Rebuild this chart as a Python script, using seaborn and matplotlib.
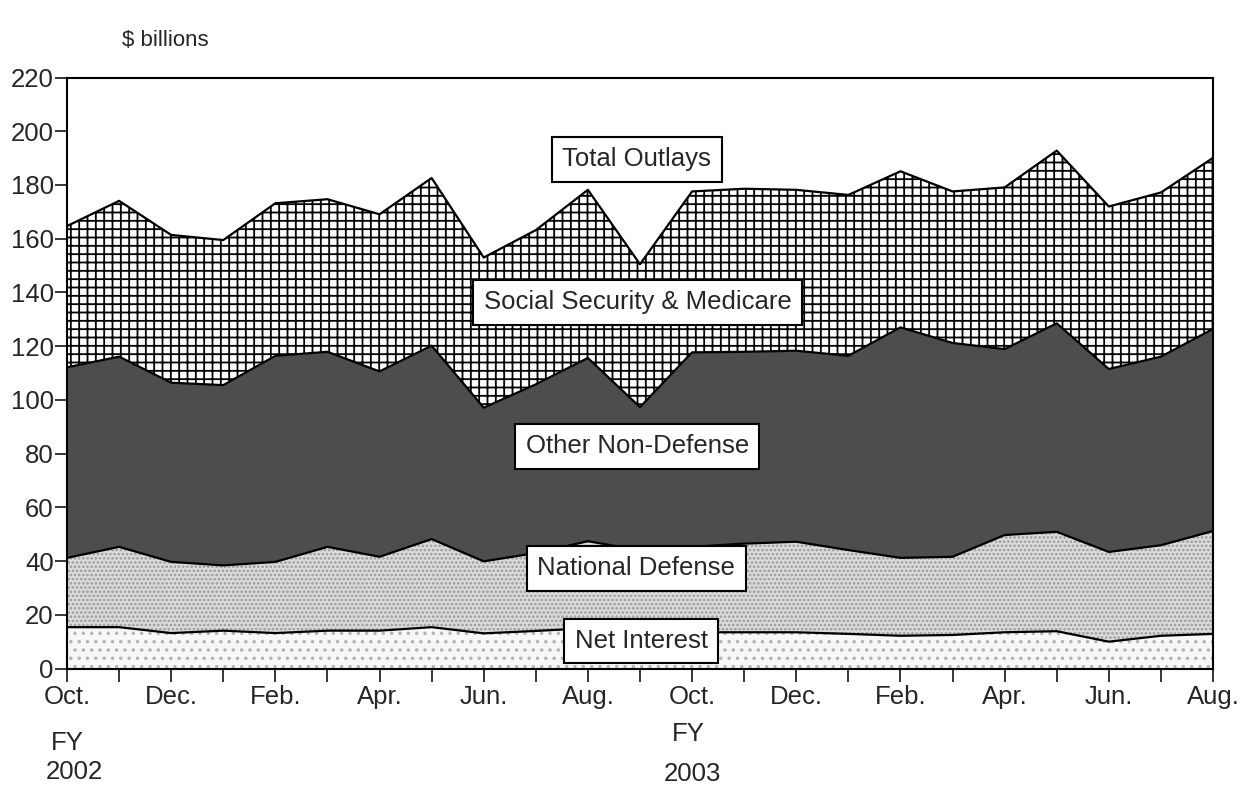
import matplotlib
matplotlib.use("Agg")
import matplotlib.pyplot as plt
import numpy as np
import seaborn as sns

# ── Data ($ billions, monthly, Oct FY2002 .. Aug FY2003) ──────────────────
months = ["Oct.", "Nov.", "Dec.", "Jan.", "Feb.", "Mar.", "Apr.", "May", "Jun.", "Jul.",
          "Aug.", "Sep.", "Oct.", "Nov.", "Dec.", "Jan.", "Feb.", "Mar.", "Apr.", "May",
          "Jun.", "Jul.", "Aug."]
net_interest = [15.4, 15.4, 13.2, 14.1, 13.2, 14.1, 14.1, 15.4, 13.1, 14.0, 15.0, 15.5,
                13.5, 13.5, 13.5, 12.9, 12.2, 12.5, 13.5, 13.9, 10.0, 12.2, 12.9]
national_defense = [25.8, 29.9, 26.5, 24.3, 26.5, 31.2, 27.5, 32.8, 26.8, 29.0, 32.4, 28.5,
                    31.8, 33.0, 33.7, 31.2, 29.0, 29.1, 36.2, 37.0, 33.4, 33.7, 38.3]
other_non_defense = [70.9, 70.8, 66.7, 67.1, 76.7, 72.6, 69.0, 72.0, 57.2, 62.8, 68.2, 53.3,
                     72.4, 71.4, 71.1, 72.3, 85.8, 79.6, 69.2, 77.6, 68.1, 70.2, 75.2]
ss_medicare = [52.6, 58.0, 55.0, 54.0, 56.8, 56.8, 58.5, 62.4, 55.9, 57.4, 62.6, 53.2,
               59.9, 60.7, 59.9, 59.9, 58.1, 56.4, 60.2, 64.3, 60.5, 61.1, 63.7]

# ── Style ──────────────────────────────────────────────────────────────────
sns.set_style("ticks")
plt.rcParams["font.family"] = ["Liberation Sans", "DejaVu Sans"]
plt.rcParams["hatch.linewidth"] = 1.3
FS = 18.5

x = np.arange(len(months))
layers = [net_interest, national_defense, other_non_defense, ss_medicare]
tops = np.cumsum(np.array(layers), axis=0)
bottoms = np.vstack([np.zeros(len(x)), tops[:-1]])

fills = [
    dict(facecolor="#f7f7f7", edgecolor="#b4b4b4", hatch=".."),
    dict(facecolor="#dcdcdc", edgecolor="#9a9a9a", hatch="...."),
    dict(facecolor="#4d4d4d", edgecolor="#4d4d4d", hatch=None),
    dict(facecolor="white", edgecolor="black", hatch="++"),
]

fig = plt.figure(figsize=(12.49, 7.88), dpi=100)
ax = fig.add_axes([67 / 1249, 0.1516, (1213 - 67) / 1249, 0.7500])

for bot, top, style in zip(bottoms, tops, fills):
    ax.fill_between(x, bot, top, linewidth=0, **style)

for top in tops:
    sns.lineplot(x=x, y=top, color="black", linewidth=1.6, ax=ax, legend=False)

# ── Area labels ────────────────────────────────────────────────────────────
box = dict(boxstyle="square,pad=0.4", facecolor="white", edgecolor="black", linewidth=1.5)
labels = [
    ("Total Outlays", 10.94, 189.5),
    ("Social Security & Medicare", 10.95, 136.3),
    ("Other Non-Defense", 10.95, 82.7),
    ("National Defense", 10.93, 37.3),
    ("Net Interest", 11.02, 10.3),
]
for text, lx, ly in labels:
    ax.text(lx, ly, text, ha="center", va="center", fontsize=FS, bbox=box, zorder=5)

# ── Axes ───────────────────────────────────────────────────────────────────
ax.set_xlim(0, len(x) - 1)
ax.set_ylim(0, 220)
ax.set_yticks(range(0, 221, 20))
ax.set_xticks(x)
ax.set_xticklabels([m if i % 2 == 0 else "" for i, m in enumerate(months)])
ax.tick_params(axis="x", direction="out", length=9, width=1.3, labelsize=FS, pad=3)
ax.tick_params(axis="y", direction="out", length=8.5, width=1.3, labelsize=FS, pad=1)
for side in ["left", "right", "top", "bottom"]:
    ax.spines[side].set_visible(True)
    ax.spines[side].set_linewidth(1.5)
    ax.spines[side].set_color("black")
ax.set_xlabel("")
ax.set_ylabel("")

fig.text(122 / 1249, 1 - 40 / 788, "$ billions", fontsize=16, va="center", ha="left")
fig.text(67 / 1249, 1 - 743 / 788, "FY", fontsize=FS, va="center", ha="center")
fig.text(74 / 1249, 1 - 772 / 788, "2002", fontsize=FS, va="center", ha="center")
fig.text(688 / 1249, 1 - 734 / 788, "FY", fontsize=FS, va="center", ha="center")
fig.text(692 / 1249, 1 - 774 / 788, "2003", fontsize=FS, va="center", ha="center")

fig.savefig("out.png", dpi=100)
